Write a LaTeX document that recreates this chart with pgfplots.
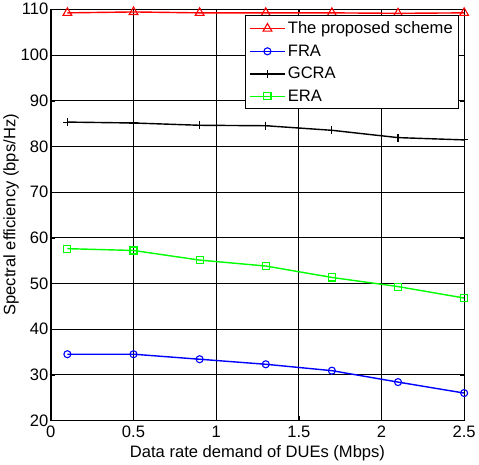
\documentclass[border=0pt]{standalone}
\usepackage{pgfplots}
\pgfplotsset{compat=1.18}
\usepackage{fontspec}
\setmainfont{Liberation Sans}
\begin{document}
\begin{tikzpicture}
\begin{axis}[
  scale only axis,
  width=410bp, height=408bp,
  xmin=0, xmax=2.5, ymin=20, ymax=110,
  xtick={0,0.5,1,1.5,2,2.5},
  xticklabels={0,0.5,1,1.5,2,2.5},
  ytick={20,30,40,50,60,70,80,90,100,110},
  /pgf/number format/assume math mode=true,
  tick label style={font=\fontsize{16.5}{18}\selectfont},
  label style={font=\fontsize{16.5}{18}\selectfont},
  xticklabel style={yshift=-2pt},
  yticklabel style={xshift=1pt},
  xlabel={Data rate demand of DUEs (Mbps)},
  ylabel={Spectral efficiency (bps/Hz)},
  xlabel style={yshift=-1pt},
  ylabel style={yshift=-5pt},
  grid=major,
  major grid style={black, line width=0.7pt},
  tick align=inside,
  tick style={black},
  axis line style={black, line width=0.8pt},
  legend style={at={(0.988,0.985)}, anchor=north east, draw=black, line width=0.8pt, font=\fontsize{16.5}{18}\selectfont, row sep=5.5pt, inner sep=4pt,
    /tikz/every even column/.append style={column sep=2pt}},
  legend image code/.code={\draw[mark repeat=2,mark phase=2] plot coordinates {(0cm,0cm) (0.62cm,0cm) (1.24cm,0cm)};},
  legend cell align=left,
]
\addplot[red, line width=1.4pt, mark=triangle, mark size=5pt, mark options={solid, line width=1.1pt}] coordinates {
(0.1,109.2) (0.5,109.4) (0.9,109.2) (1.3,109.2) (1.7,109.2) (2.1,109.1) (2.5,109.2)};
\addlegendentry{The proposed scheme}
\addplot[blue, line width=1.4pt, mark=o, mark size=3.5pt, mark options={solid, line width=1.1pt}] coordinates {
(0.1,34.5) (0.5,34.5) (0.9,33.4) (1.3,32.3) (1.7,30.9) (2.1,28.4) (2.5,26.0)};
\addlegendentry{FRA}
\addplot[black, line width=1.4pt, mark=+, mark size=4pt, mark options={solid, line width=1.1pt}] coordinates {
(0.1,85.3) (0.5,85.1) (0.9,84.6) (1.3,84.5) (1.7,83.5) (2.1,81.9) (2.5,81.4)};
\addlegendentry{GCRA}
\addplot[green, line width=1.4pt, mark=square, mark size=3.5pt, mark options={solid, line width=1.1pt}] coordinates {
(0.1,57.6) (0.5,57.2) (0.9,55.1) (1.3,53.8) (1.7,51.3) (2.1,49.3) (2.5,46.8)};
\addlegendentry{ERA}
\end{axis}
\end{tikzpicture}
\end{document}
